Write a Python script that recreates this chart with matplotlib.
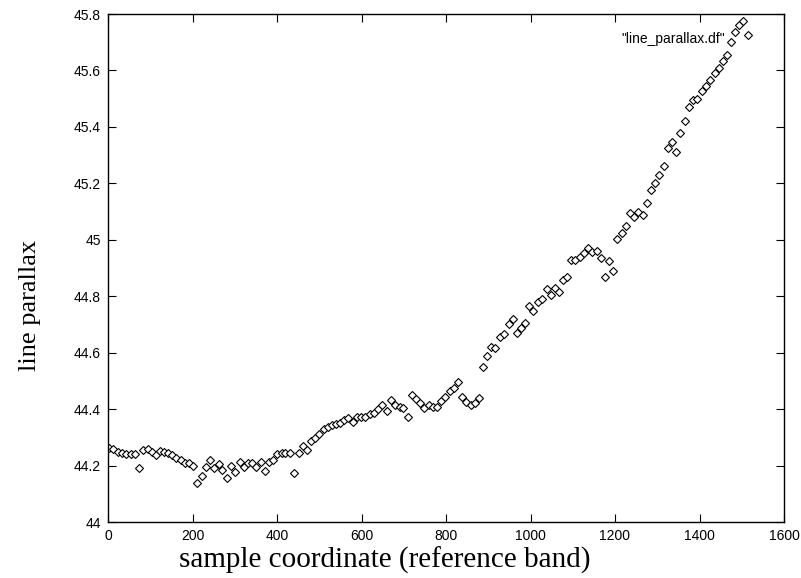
import matplotlib
matplotlib.use('Agg')
from matplotlib import pyplot as plt

# sample coordinate (reference band) and measured line parallax
sample = [2, 13, 23, 33, 43, 54, 63, 73, 84, 94,
          103, 113, 123, 133, 143, 152, 162, 172, 182, 192,
          202, 211, 222, 232, 241, 252, 262, 271, 282, 292,
          301, 312, 322, 331, 342, 351, 361, 371, 381, 391,
          401, 411, 420, 431, 441, 451, 461, 470, 480, 491,
          500, 511, 520, 530, 540, 550, 559, 569, 580, 589,
          599, 609, 620, 629, 640, 649, 660, 670, 679, 690,
          699, 709, 720, 729, 739, 749, 759, 769, 779, 789,
          798, 809, 818, 829, 838, 848, 858, 868, 878, 888,
          897, 907, 916, 928, 937, 949, 958, 968, 977, 987,
          997, 1006, 1018, 1027, 1039, 1048, 1058, 1067, 1077, 1087,
          1096, 1105, 1117, 1127, 1136, 1146, 1157, 1167, 1176, 1186,
          1195, 1205, 1216, 1226, 1235, 1245, 1255, 1266, 1276, 1285,
          1295, 1304, 1315, 1325, 1335, 1344, 1354, 1365, 1375, 1385,
          1394, 1406, 1415, 1425, 1436, 1446, 1456, 1466, 1475, 1485,
          1494, 1503, 1515]

parallax = [44.261, 44.258, 44.249, 44.243, 44.241, 44.240, 44.241, 44.192, 44.255, 44.258,
            44.249, 44.237, 44.252, 44.249, 44.245, 44.237, 44.228, 44.220, 44.210, 44.208,
            44.198, 44.137, 44.164, 44.196, 44.220, 44.190, 44.205, 44.184, 44.155, 44.200,
            44.176, 44.212, 44.196, 44.210, 44.208, 44.196, 44.214, 44.181, 44.214, 44.220,
            44.241, 44.243, 44.244, 44.245, 44.174, 44.246, 44.270, 44.255, 44.286, 44.297,
            44.312, 44.328, 44.338, 44.344, 44.347, 44.352, 44.361, 44.367, 44.355, 44.373,
            44.373, 44.371, 44.382, 44.387, 44.399, 44.415, 44.393, 44.432, 44.415, 44.406,
            44.403, 44.373, 44.450, 44.435, 44.421, 44.405, 44.415, 44.406, 44.406, 44.430,
            44.442, 44.465, 44.474, 44.497, 44.444, 44.426, 44.416, 44.423, 44.439, 44.548,
            44.588, 44.620, 44.615, 44.655, 44.666, 44.700, 44.720, 44.670, 44.687, 44.705,
            44.765, 44.748, 44.780, 44.790, 44.826, 44.804, 44.830, 44.815, 44.857, 44.868,
            44.930, 44.930, 44.940, 44.953, 44.970, 44.957, 44.960, 44.935, 44.868, 44.925,
            44.890, 45.003, 45.024, 45.050, 45.095, 45.080, 45.098, 45.088, 45.130, 45.176,
            45.200, 45.230, 45.260, 45.325, 45.346, 45.310, 45.380, 45.420, 45.470, 45.495,
            45.500, 45.527, 45.545, 45.566, 45.590, 45.610, 45.633, 45.655, 45.700, 45.735,
            45.760, 45.775, 45.725]

xticks = [0, 200, 400, 600, 800, 1000, 1200, 1400, 1600]
yticks = [44, 44.2, 44.4, 44.6, 44.8, 45, 45.2, 45.4, 45.6, 45.8]
ytick_labels = ['44', '44.2', '44.4', '44.6', '44.8', '45', '45.2', '45.4', '45.6', '45.8']

fig = plt.figure(figsize=(8.01, 5.78), dpi=100)
ax = fig.add_axes([108 / 801, 1 - 522 / 578, 676 / 801, 508 / 578])

ax.plot(sample, parallax, linestyle='none', marker='D', markersize=4.2,
        markerfacecolor='white', markeredgecolor='black', markeredgewidth=0.8)

ax.set_xlim(0, 1600)
ax.set_ylim(44, 45.8)
ax.set_xticks(xticks)
ax.set_yticks(yticks)
ax.set_yticklabels(ytick_labels)
ax.tick_params(direction='in', top=True, right=True, length=6, width=0.8,
               labelsize=10, pad=5)
for lab in ax.get_xticklabels() + ax.get_yticklabels():
    lab.set_family('Liberation Sans')
for s in ax.spines.values():
    s.set_linewidth(1.0)

ax.text(0.913, 0.95, '"line_parallax.df"', transform=ax.transAxes,
        ha='right', va='center', fontsize=10, family='Liberation Sans')

fig.text(385 / 801, 1 - 560 / 578, 'sample coordinate (reference band)',
         ha='center', va='center', fontsize=21, family='Liberation Serif')
fig.text(30 / 801, 1 - 305 / 578, 'line parallax', rotation=90,
         ha='center', va='center', fontsize=19, family='Liberation Serif')

plt.savefig('out.png', dpi=100)
